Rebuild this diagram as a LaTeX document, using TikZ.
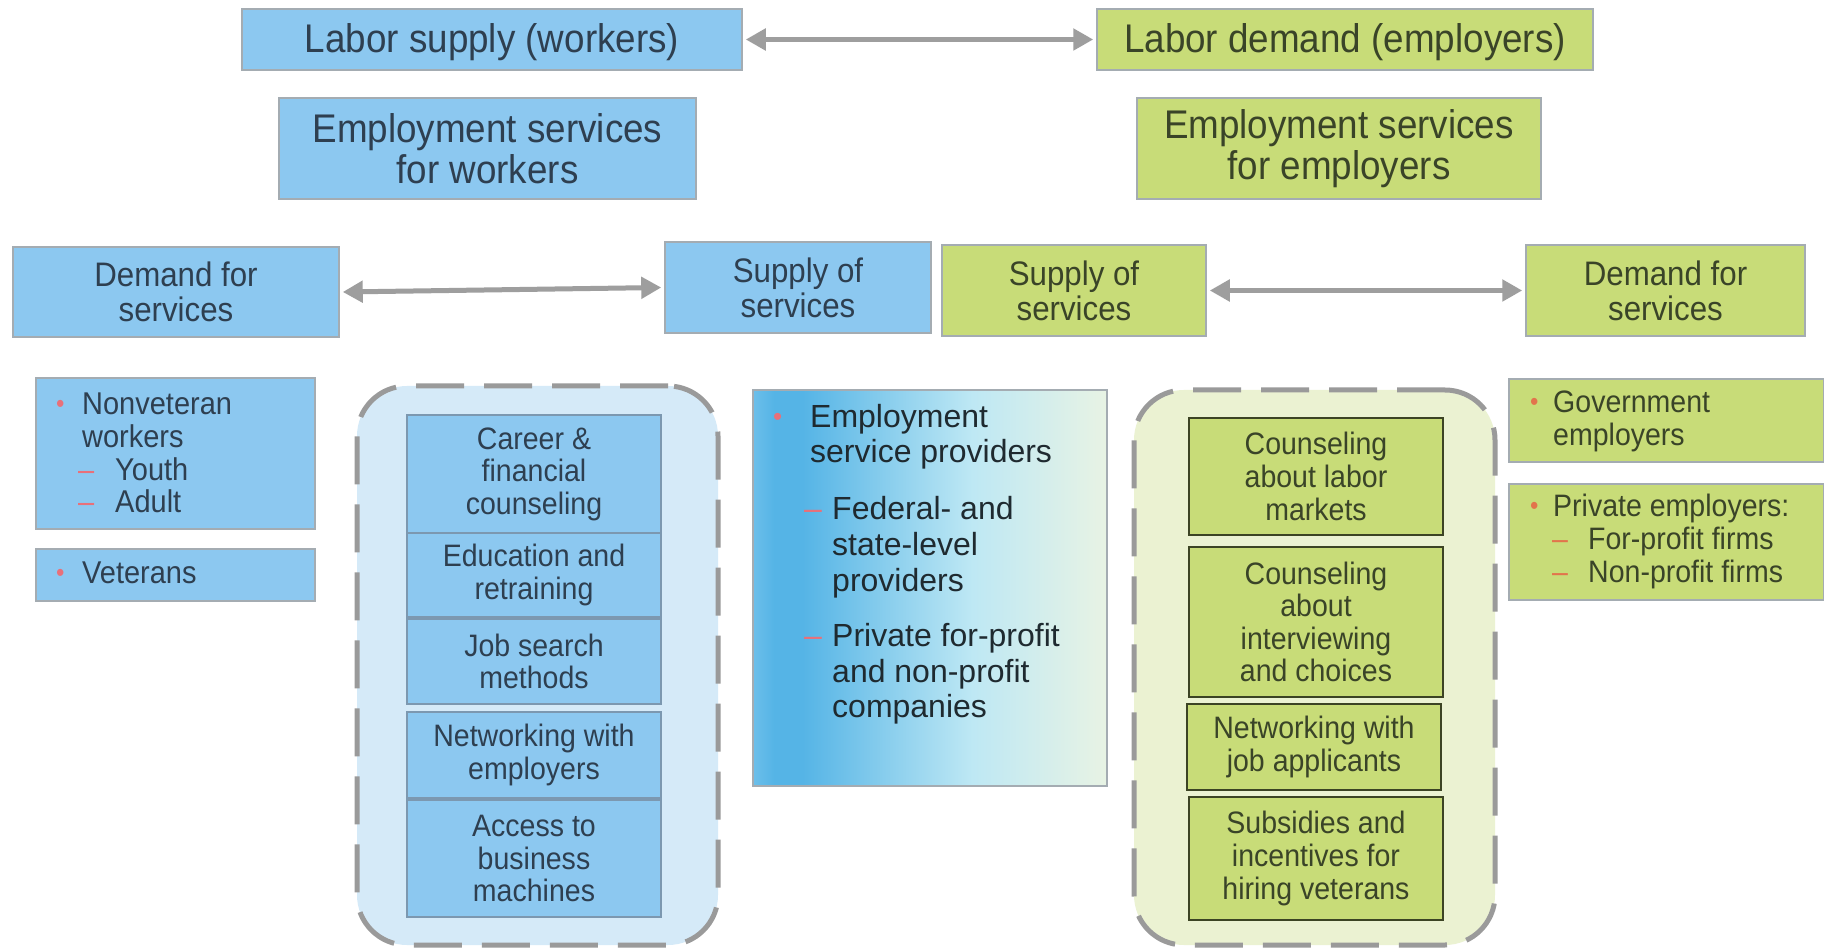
\documentclass[tikz,border=0pt]{standalone}
\usepackage{fontspec}
\setmainfont{Liberation Sans}
\newfontfamily\condfont{Liberation Sans}[FakeStretch=0.92]
\usetikzlibrary{arrows.meta}

\definecolor{bluefill}{HTML}{8CC8F0}
\definecolor{greenfill}{HTML}{C8DC78}
\definecolor{boxline}{HTML}{A4ACB2}
\definecolor{innerblueline}{HTML}{7C98B0}
\definecolor{innergreenline}{HTML}{3C4424}
\definecolor{bluetext}{HTML}{2E3F50}
\definecolor{greentext}{HTML}{3A4428}
\definecolor{gradtext}{HTML}{1F2A30}
\definecolor{arrowgray}{HTML}{9E9E9E}
\definecolor{dashgray}{HTML}{9A9A9A}
\definecolor{bluecontfill}{HTML}{D5EAF8}
\definecolor{greencontfill}{HTML}{EBF2D2}
\definecolor{bulblue}{HTML}{E8707A}
\definecolor{bulgreen}{HTML}{E2744C}
\definecolor{gradedge}{HTML}{6CBFEA}
\definecolor{gradleft}{HTML}{55B4E6}
\definecolor{gradmid}{HTML}{BEE8F4}
\definecolor{gradright}{HTML}{E8F3E4}

% left-to-right fill of the provider panel
\pgfdeclarehorizontalshading{providershade}{100bp}{color(0bp)=(gradedge); color(25bp)=(gradedge); color(28bp)=(gradleft); color(32bp)=(gradleft); color(56bp)=(gradmid); color(75bp)=(gradright); color(100bp)=(gradright)}

% list markers hanging to the left of the text start
\newcommand\bulmark[2]{\llap{\makebox[#1][l]{\textcolor{#2}{\raisebox{2pt}{\fontsize{26}{26}\selectfont •}}}}}
\newcommand\dshmark[2]{\llap{\makebox[#1][l]{\textcolor{#2}{–}}}}

\begin{document}
\begin{tikzpicture}[x=1pt,y=-1pt,
  box/.style={draw=boxline, line width=1.5pt, inner sep=0pt, align=center},
  bluebox/.style={box, fill=bluefill, text=bluetext},
  greenbox/.style={box, fill=greenfill, text=greentext},
  bigtxt/.style={font=\condfont\fontsize{40}{41}\selectfont},
  midtxt/.style={font=\condfont\fontsize{34}{35}\selectfont},
  smalltxt/.style={font=\condfont\fontsize{31}{32.6}\selectfont},
  innerblue/.style={draw=innerblueline, line width=2pt, fill=bluefill, text=bluetext, smalltxt,
    minimum width=254pt, inner sep=0pt, align=center},
  innergreen/.style={draw=innergreenline, line width=2.5pt, fill=greenfill, text=greentext, smalltxt,
    minimum width=254pt, inner sep=0pt, align=center},
  container/.style={draw=dashgray, line width=5pt, dash pattern=on 48pt off 20pt, rounded corners=50pt,
    minimum width=361pt, inner sep=0pt},
  bluelist/.style={text=bluetext, font=\condfont\fontsize{31.5}{33}\selectfont, inner sep=0pt, anchor=base west},
  greenlist/.style={text=greentext, font=\condfont\fontsize{31}{33}\selectfont, inner sep=0pt, anchor=base west},
  gradlist/.style={text=gradtext, font=\fontsize{32}{35.5}\selectfont, inner sep=0pt, anchor=base west},
  twoway/.style={draw=arrowgray, line width=5pt, {Triangle[length=20pt,width=21pt]}-{Triangle[length=20pt,width=21pt]}}
]
\useasboundingbox (0,0) rectangle (1824,949);
\fill[white] (0,0) rectangle (1824,949);

% ---- top level: labor market ----
\node[bluebox, bigtxt, minimum width=500pt, minimum height=61pt, text height=31pt, text depth=5pt] (supply) at (492,39.5) {Labor supply (workers)};
\node[greenbox, bigtxt, minimum width=496pt, minimum height=61pt, text height=31pt, text depth=5pt] (demand) at (1345,39.5) {Labor demand (employers)};
\draw[twoway] ([xshift=3pt]supply.east) -- ([xshift=-3pt]demand.west);

\node[bluebox, bigtxt, minimum width=417pt, minimum height=101pt] (esw) at (487.5,148.5) {Employment services\\for workers};
\node[greenbox, bigtxt, minimum width=404pt, minimum height=101pt] (ese) at (1339,148.5) {Employment services\\for employers};

% ---- second level: markets for services ----
\node[bluebox, midtxt, minimum width=326pt, minimum height=90pt] (wdem) at (176,292) {Demand for\\services};
\node[bluebox, midtxt, minimum width=266pt, minimum height=91pt] (wsup) at (798,287.5) {Supply of\\services};
\node[greenbox, midtxt, minimum width=264pt, minimum height=91pt] (esup) at (1074,290.5) {Supply of\\services};
\node[greenbox, midtxt, minimum width=279pt, minimum height=91pt] (edem) at (1665.5,290.5) {Demand for\\services};
\draw[twoway] ([xshift=3pt]wdem.east) -- ([xshift=-3pt]wsup.west);
\draw[twoway] ([xshift=3pt]esup.east) -- ([xshift=-3pt]edem.west);

% ---- workers who demand services ----
\node[bluebox, minimum width=279pt, minimum height=151pt] (nvbox) at (175.5,453.5) {};
\node[bluelist] (nv1) at (82,415) {\bulmark{26pt}{bulblue}Nonveteran};
\node[bluelist] (nv2) at (82,448) {workers};
\node[bluelist] (nv3) at (115,480) {\dshmark{37pt}{bulblue}Youth};
\node[bluelist] (nv4) at (115,512) {\dshmark{37pt}{bulblue}Adult};
\node[bluebox, minimum width=279pt, minimum height=52pt] (vetbox) at (175.5,575) {};
\node[bluelist] (vet1) at (82,583) {\bulmark{26pt}{bulblue}Veterans};

% ---- services offered to workers ----
\node[container, fill=bluecontfill, minimum height=559pt] (wcont) at (537.5,665.5) {};
\node[innerblue, minimum height=118pt] (career) at (534,474) {Career \&\\financial\\counseling};
\node[innerblue, minimum height=84pt] (educ) at (534,575) {Education and\\retraining};
\node[innerblue, minimum height=85pt] (jobsearch) at (534,661.5) {Job search\\methods};
\node[innerblue, minimum height=86pt] (netemp) at (534,755) {Networking with\\employers};
\node[innerblue, minimum height=117pt] (access) at (534,858.5) {Access to\\business\\machines};

% ---- providers ----
\node[shade, shading=providershade, draw=boxline, line width=1.5pt, minimum width=354pt, minimum height=396pt, inner sep=0pt] (providers) at (930,588) {};
\node[gradlist] (pr1) at (810,428) {\bulmark{37pt}{bulblue}Employment};
\node[gradlist] (pr2) at (810,463) {service providers};
\node[gradlist] (pr3) at (832,519) {\dshmark{28pt}{bulblue}Federal- and};
\node[gradlist] (pr4) at (832,555) {state-level};
\node[gradlist] (pr5) at (832,591) {providers};
\node[gradlist] (pr6) at (832,646) {\dshmark{28pt}{bulblue}Private for-profit};
\node[gradlist] (pr7) at (832,682) {and non-profit};
\node[gradlist] (pr8) at (832,717) {companies};

% ---- services offered to employers ----
\node[container, fill=greencontfill, minimum height=555pt] (econt) at (1314.5,667.5) {};
\node[innergreen, minimum height=117pt] (labmkt) at (1316,476.5) {Counseling\\about labor\\markets};
\node[innergreen, minimum height=150pt] (interv) at (1316,622) {Counseling\\about\\interviewing\\and choices};
\node[innergreen, minimum height=86pt] (netapp) at (1314,747) {Networking with\\job applicants};
\node[innergreen, minimum height=123pt] (subsid) at (1316,858.5) {Subsidies and\\incentives for\\hiring veterans};

% ---- employers who demand services ----
\node[greenbox, minimum width=315pt, minimum height=83pt] (govbox) at (1666.5,420.5) {};
\node[greenlist] (gov1) at (1553,413) {\bulmark{23pt}{bulgreen}Government};
\node[greenlist] (gov2) at (1553,446) {employers};
\node[greenbox, minimum width=315pt, minimum height=116pt] (privbox) at (1666.5,542) {};
\node[greenlist] (pv1) at (1553,516) {\bulmark{23pt}{bulgreen}Private employers:};
\node[greenlist] (pv2) at (1588,549) {\dshmark{36pt}{bulgreen}For-profit firms};
\node[greenlist] (pv3) at (1588,582) {\dshmark{36pt}{bulgreen}Non-profit firms};
\end{tikzpicture}
\end{document}
